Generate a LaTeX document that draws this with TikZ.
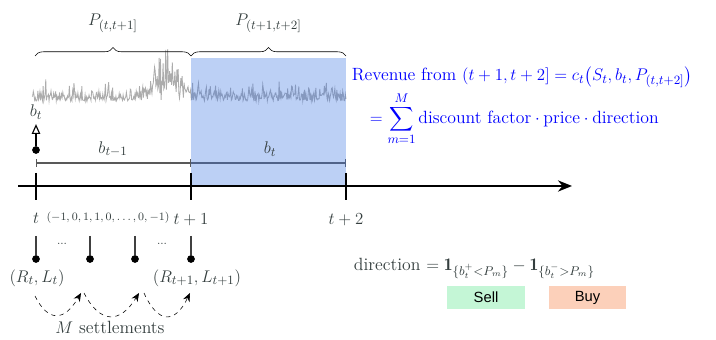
\documentclass[tikz,border=0pt]{standalone}
\usepackage{amsmath}
\usepackage{fontspec}
\usetikzlibrary{arrows.meta,decorations.pathreplacing,positioning}
\newfontfamily\boxfont{Liberation Sans}
\definecolor{txtgray}{RGB}{52,62,62}
\definecolor{winblue}{rgb}{0.25,0.47,0.89}
\definecolor{sellgreen}{RGB}{196,246,214}
\definecolor{buysalmon}{RGB}{252,208,186}

\begin{document}
\begin{tikzpicture}[x=0.025cm, y=-0.025cm, font=\fontsize{12.6}{15}\selectfont, text=txtgray,
        tick/.style={line width=1.2pt},
        stem/.style={thick, black!75},
        dot/.style={circle, fill=black, inner sep=0pt, minimum size=5.5pt},
        settle/.style={dashed, -{Stealth[length=6pt, width=5pt]}},
        pricebox/.style={minimum width=55pt, minimum height=16pt, inner sep=0pt,
                font=\boxfont\fontsize{10.5}{12}\selectfont, text=black}]

        \useasboundingbox (0,0) rectangle (716,340);

        % price path over both windows
        \pgfmathsetseed{11}
        \draw[gray!65, line width=0.6pt] plot[domain=32:346, samples=480]
                (\x, {101 - 8*rnd^1.5 - 16*rnd^6 - 48*exp(-((\x-168)/15)^2)*rnd^1.3});

        % intervals of b
        \draw[{Bar[width=5pt]}-{Bar[width=5pt]}, thick, black!65] (36,163) -- (191,163);
        \draw[-{Bar[width=5pt]}, thick, black!65] (191,163) -- (346,163);

        % shaded window (t+1, t+2]
        \fill[winblue, fill opacity=0.35] (191,58) rectangle (346,186);

        % braces with the price labels
        \draw[decorate, decoration={brace, amplitude=6pt}] (35,56) -- (191,56)
                node[midway, above=13pt] (p1) {$P_{(t,t+1]}$};
        \draw[decorate, decoration={brace, amplitude=6pt}] (191,56) -- (346,56)
                node[midway, above=13pt] (p2) {$P_{(t+1,t+2]}$};

        % bid at t
        \node[dot] (bdot) at (36,150) {};
        \node (bt) at (36,112) {$b_t$};
        \draw[thick, -{Triangle[open, length=7pt, width=6pt]}] (bdot) -- (bt);
        \node (bprev) at (113,149) {$b_{t-1}$};
        \node (bnow) at (270,149) {$b_t$};

        % time axis
        \draw[-{Stealth[length=10pt, width=8pt]}, line width=1.2pt] (18,186) -- (572,186);
        \foreach \tx/\name in {36/t0, 191/t1, 346/t2}
                \draw[tick] (\tx,173) -- (\tx,200) coordinate (\name);
        \node[below=6pt of t0] (lt0) {$t$};
        \node[below=6pt of t1] (lt1) {$t+1$};
        \node[below=6pt of t2] (lt2) {$t+2$};
        \node[font=\footnotesize] (seq) at (108,218) {$(-1,0,1,1,0,\ldots,0,-1)$};

        % settlements
        \foreach \sx/\name in {36/d0, 90/d1, 135/d2, 191/d3} {
                \coordinate (top\name) at (\sx,236);
                \node[dot] (\name) at (\sx,259) {};
                \draw[stem] (top\name) -- (\name);
        }
        \node[font=\footnotesize] (gap1) at (62,244) {...};
        \node[font=\footnotesize] (gap2) at (162,244) {...};
        \node (rl0) at (37,278) {$(R_t, L_t)$};
        \node (rl1) at (197,278) {$(R_{t+1}, L_{t+1})$};

        \coordinate (s0) at (35,296);
        \coordinate (s1) at (81,293);
        \coordinate (s2) at (139,293);
        \coordinate (s3) at (190,293);
        \draw[settle] (s0) .. controls (48,322) and (64,322) .. (s1);
        \draw[settle] (84,293) .. controls (100,324) and (120,324) .. (s2);
        \draw[settle] (144,293) .. controls (158,324) and (175,324) .. (s3);
        \node (msettle) at (110,327) {$M$ settlements};

        % revenue
        \node[anchor=west, text=blue] (rev) at (347,77)
                {Revenue from $(t+1,t+2] = c_t\big(S_t, b_t, P_{(t,t+2]}\big)$};
        \node[anchor=west, text=blue] (sum) at (365,119)
                {$\displaystyle = \sum_{m=1}^{M} \text{discount factor} \cdot \text{price} \cdot \text{direction}$};

        % direction
        \node[anchor=west] (dir) at (349,268)
                {direction $= \mathbf{1}_{\{b_t^+ < P_m\}} - \mathbf{1}_{\{b_t^- > P_m\}}$};
        \node[pricebox, fill=sellgreen] (sell) at (486,297.5) {Sell};
        \node[pricebox, fill=buysalmon] (buy) at (587.5,297.5) {Buy};
\end{tikzpicture}
\end{document}
